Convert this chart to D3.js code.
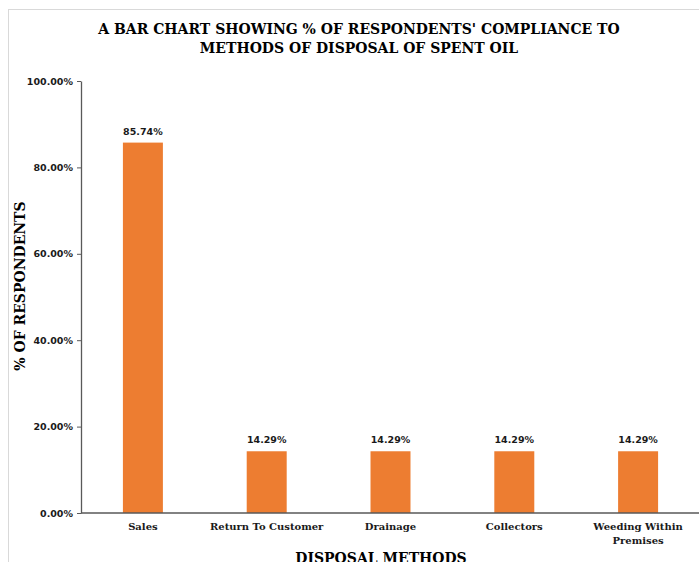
<!DOCTYPE html>
<html><head><meta charset="utf-8">
<script src="https://cdn.jsdelivr.net/npm/d3@7"></script>
<style>body{margin:0;background:#fff;overflow:hidden}</style>
</head><body>
<script>
const categories = ["Sales", "Return To Customer", "Drainage", "Collectors", "Weeding Within Premises"];
const values = [85.74, 14.29, 14.29, 14.29, 14.29];
const yTicks = [0, 20, 40, 60, 80, 100];
const title = ["A BAR CHART SHOWING % OF RESPONDENTS' COMPLIANCE TO", "METHODS OF DISPOSAL OF SPENT OIL"];
const xTitle = "DISPOSAL METHODS";
const yTitle = "% OF RESPONDENTS";

const W = 699, H = 562;
const svg = d3.select("body").append("svg").attr("width", W).attr("height", H);
svg.append("rect").attr("x", 8.5).attr("y", 9.5).attr("width", 720).attr("height", 600)
  .attr("fill", "#fff").attr("stroke", "#d9d9d9");

const serif = "'DejaVu Serif', serif";
const sans = "'DejaVu Sans', sans-serif";

const x = d3.scaleBand().domain(categories).range([81, 700]).paddingInner(0.677).paddingOuter(0.3385);
const y = d3.scaleLinear().domain([0, 100]).range([513, 81]);

svg.append("g").selectAll("rect").data(values).join("rect")
  .attr("x", (d, i) => x(categories[i])).attr("width", x.bandwidth())
  .attr("y", d => y(d)).attr("height", d => y(0) - y(d)).attr("fill", "#ED7D31");

svg.append("g").selectAll("text").data(values).join("text")
  .attr("x", (d, i) => x(categories[i]) + x.bandwidth() / 2).attr("y", d => y(d) - 8)
  .attr("text-anchor", "middle").attr("font-family", sans).attr("font-weight", "bold")
  .attr("font-size", 9.5).attr("fill", "#1a1a1a").text(d => d.toFixed(2) + "%");

const yAxis = svg.append("g").attr("transform", "translate(81,0)")
  .call(d3.axisLeft(y).tickValues(yTicks).tickSize(4).tickSizeOuter(0).tickFormat(d => d.toFixed(2) + "%"));
yAxis.select(".domain").attr("stroke", "#595959").attr("stroke-width", 1.3);
yAxis.selectAll(".tick line").attr("stroke", "#595959");
yAxis.selectAll(".tick text").attr("font-family", sans).attr("font-weight", "bold")
  .attr("font-size", 9.5).attr("fill", "#1a1a1a").attr("dx", "-1");

svg.append("line").attr("x1", 81).attr("x2", 700).attr("y1", y(0)).attr("y2", y(0))
  .attr("stroke", "#595959").attr("stroke-width", 1.3);

// category labels
const catG = svg.append("g");
categories.forEach(c => {
  const cx = x(c) + x.bandwidth() / 2;
  const lines = c === "Weeding Within Premises" ? ["Weeding Within", "Premises"] : [c];
  lines.forEach((l, j) => {
    catG.append("text").attr("x", cx).attr("y", 530 + j * 14).attr("text-anchor", "middle")
      .attr("font-family", serif).attr("font-weight", "bold").attr("font-size", 10)
      .attr("fill", "#1a1a1a").text(l);
  });
});

title.forEach((t, i) => {
  svg.append("text").attr("x", 359).attr("y", 34 + i * 19).attr("text-anchor", "middle")
    .attr("font-family", serif).attr("font-weight", "bold").attr("font-size", 14)
    .attr("fill", "#000").text(t);
});

svg.append("text").attr("x", 381).attr("y", 563).attr("text-anchor", "middle")
  .attr("font-family", serif).attr("font-weight", "bold").attr("font-size", 14)
  .attr("fill", "#000").text(xTitle);

svg.append("text").attr("transform", "translate(25,286) rotate(-90)").attr("text-anchor", "middle")
  .attr("font-family", serif).attr("font-weight", "bold").attr("font-size", 14)
  .attr("fill", "#000").text(yTitle);
</script>
</body></html>
